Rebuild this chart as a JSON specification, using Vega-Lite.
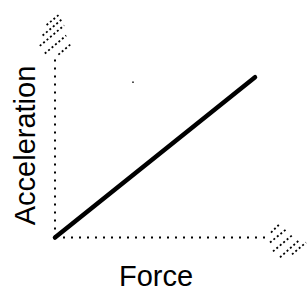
{
  "$schema": "https://vega.github.io/schema/vega-lite/v6.json",
  "width": 307,
  "height": 292,
  "autosize": {"type": "fit", "contains": "padding"},
  "padding": 0,
  "background": "white",
  "config": {"view": {"stroke": null}},
  "datasets": {
    "segs": [
      {"kind": "axis", "x": 0, "y": 0, "x2": 10.65, "y2": 0},
      {"kind": "axis", "x": 0, "y": 0, "x2": 0, "y2": 9.1},
      {"kind": "hatch", "x": -0.42, "y": 10.735, "x2": 0.27, "y2": 11.315},
      {"kind": "hatch", "x": -0.62, "y": 10.205, "x2": 0.37, "y2": 11.045},
      {"kind": "hatch", "x": -0.76, "y": 9.68, "x2": 0.46, "y2": 10.72},
      {"kind": "hatch", "x": -0.51, "y": 9.295, "x2": 0.56, "y2": 10.205},
      {"kind": "hatch", "x": 0.17, "y": 9.24, "x2": 0.78, "y2": 9.76},
      {"kind": "hatch", "x": 10.8, "y": 0.25, "x2": 11.2, "y2": 0.65},
      {"kind": "hatch", "x": 10.75, "y": -0.25, "x2": 11.6, "y2": 0.45},
      {"kind": "hatch", "x": 10.9, "y": -0.7, "x2": 11.9, "y2": 0.15},
      {"kind": "hatch", "x": 11.25, "y": -1.0, "x2": 12.25, "y2": -0.1},
      {"kind": "hatch", "x": 11.85, "y": -0.85, "x2": 12.55, "y2": -0.25},
      {"kind": "relation", "x": 0, "y": 0, "x2": 10.0, "y2": 8.1}
    ],
    "labels": [
      {"text": "Force", "x": 5.05, "y": -2.45, "angle": 0},
      {"text": "Acceleration", "x": -1.0, "y": 4.65, "angle": 270}
    ],
    "dots": [{"x": 3.9, "y": 7.85}]
  },
  "encoding": {
    "x": {"field": "x", "type": "quantitative", "scale": {"domain": [-2.75, 12.6], "nice": false, "zero": false}, "axis": null},
    "y": {"field": "y", "type": "quantitative", "scale": {"domain": [-2.6, 12], "nice": false, "zero": false}, "axis": null}
  },
  "layer": [
    {
      "data": {"name": "segs"},
      "transform": [{"filter": "datum.kind === 'axis'"}],
      "mark": {"type": "rule", "color": "#000", "strokeWidth": 2, "strokeDash": [2, 6]},
      "encoding": {"x2": {"field": "x2"}, "y2": {"field": "y2"}}
    },
    {
      "data": {"name": "segs"},
      "transform": [{"filter": "datum.kind === 'hatch'"}],
      "mark": {"type": "rule", "color": "#000", "strokeWidth": 1.8, "strokeDash": [2, 2.5]},
      "encoding": {"x2": {"field": "x2"}, "y2": {"field": "y2"}}
    },
    {
      "data": {"name": "segs"},
      "transform": [{"filter": "datum.kind === 'relation'"}],
      "mark": {"type": "rule", "color": "#000", "strokeWidth": 4.5, "strokeCap": "round"},
      "encoding": {"x2": {"field": "x2"}, "y2": {"field": "y2"}}
    },
    {
      "data": {"name": "dots"},
      "mark": {"type": "point", "filled": true, "color": "#222", "size": 3, "opacity": 1}
    },
    {
      "data": {"name": "labels"},
      "mark": {"type": "text", "font": "Liberation Sans", "fontSize": 29, "color": "#000", "align": "center", "baseline": "alphabetic"},
      "encoding": {"text": {"field": "text"}, "angle": {"field": "angle", "type": "quantitative", "scale": null}}
    }
  ]
}
